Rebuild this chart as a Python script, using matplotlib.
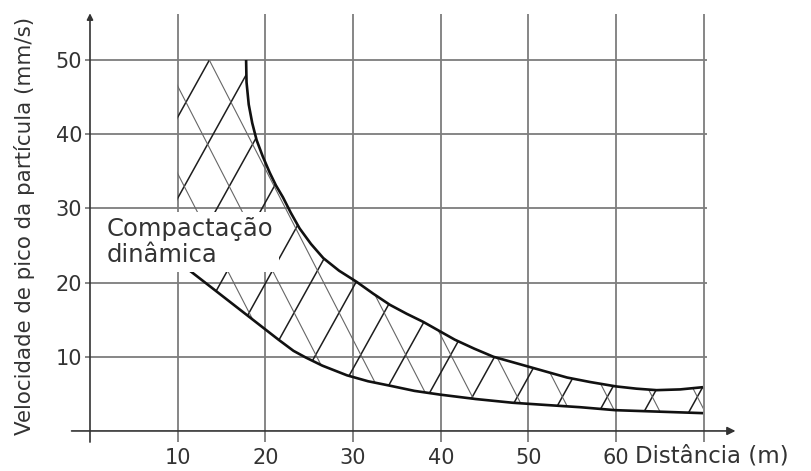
import numpy as np
import matplotlib
matplotlib.use("Agg")
from matplotlib import pyplot as plt
from matplotlib.patches import Polygon

plt.rcParams['font.family'] = ['DejaVu Sans']

# Faixa de velocidade de pico (mm/s) vs distancia (m) - compactacao dinamica
upper_x = [17.8, 17.85, 18.1, 18.5, 19.0, 19.7, 20.5, 21.2, 22.0, 22.9, 23.9,
           25.2, 26.6, 28.4, 30.4, 32.3, 34.2, 36.1, 38.0, 39.8, 41.6, 43.8,
           46.0, 48.1, 50.2, 52.3, 54.4, 57.0, 60.0, 62.3, 64.6, 67.3, 69.9]
upper_y = [50.0, 47.0, 44.0, 41.5, 39.2, 37.0, 34.8, 33.1, 31.5, 29.4, 27.3,
           25.2, 23.3, 21.6, 20.1, 18.5, 17.0, 15.8, 14.7, 13.5, 12.3, 11.1,
           10.0, 9.3, 8.6, 7.9, 7.2, 6.6, 6.0, 5.7, 5.5, 5.6, 5.9]
lower_x = [10.0, 11.6, 14.0, 16.5, 19.0, 21.5, 23.2, 24.6, 26.5, 29.3, 31.7,
           34.2, 37.0, 39.9, 44.0, 48.2, 52.0, 55.9, 59.9, 64.9, 69.9]
lower_y = [22.8, 21.4, 19.2, 16.9, 14.6, 12.3, 10.8, 9.9, 8.8, 7.5, 6.7,
           6.1, 5.4, 4.9, 4.3, 3.8, 3.5, 3.2, 2.8, 2.6, 2.4]
band_left = 10      # hatched zone starts at x = 10
band_top = 50       # and is capped at 50 mm/s

x_ticks = [10, 20, 30, 40, 50, 60, 70]
x_labels = ['10', '20', '30', '40', '50', '60', '']
y_ticks = [10, 20, 30, 40, 50]

grid_col = '#7d7d7d'
txt_col = '#333333'

fig = plt.figure(figsize=(8.11, 4.71), dpi=100)
ax = fig.add_axes([0.1048, 0.0614, 0.8064, 0.9136])
ax.set_xlim(-0.57, 74)
ax.set_ylim(-1.5, 56.5)
for s in ax.spines.values():
    s.set_visible(False)

# grid
ax.vlines(x_ticks, -1.5, 56.2, color=grid_col, lw=1.3, zorder=1)
ax.hlines(y_ticks, -0.57, 70.35, color=grid_col, lw=1.3, zorder=1)

# axes with arrows
ax.annotate('', xy=(73.6, 0), xytext=(-2.1, 0), annotation_clip=False,
            arrowprops=dict(arrowstyle='-|>', color=txt_col, lw=1.2,
                            mutation_scale=12, shrinkA=0, shrinkB=0), zorder=2)
ax.annotate('', xy=(0, 56.3), xytext=(0, -1.5), annotation_clip=False,
            arrowprops=dict(arrowstyle='-|>', color=txt_col, lw=1.2,
                            mutation_scale=9, shrinkA=0, shrinkB=0), zorder=2)

ax.set_xticks(x_ticks, x_labels)
ax.set_yticks(y_ticks)
ax.tick_params(length=0, labelsize=15, colors=txt_col)
ax.tick_params(axis='x', pad=4)
ax.tick_params(axis='y', pad=2)

# hatched zone
poly_x = [band_left] + upper_x + lower_x[::-1]
poly_y = [band_top] + upper_y + lower_y[::-1]
zone = Polygon(np.column_stack([poly_x, poly_y]), closed=True,
               facecolor='none', edgecolor='none')
ax.add_patch(zone)

step = 5.13
yy = np.array([-2, 58])
for k in range(-12, 8):
    x0 = 41.44 + step * k
    ln, = ax.plot(x0 + yy / 2.13, yy, color='#1e1e1e', lw=1.1, zorder=3)
    ln.set_clip_path(zone)
    x1 = 45.6 + step * k
    ln, = ax.plot(x1 - yy / 2.3, yy, color='#666666', lw=0.8, zorder=3)
    ln.set_clip_path(zone)

ax.plot(upper_x, upper_y, color='#111111', lw=1.9, zorder=4,
        solid_capstyle='butt', solid_joinstyle='round')
ax.plot(lower_x, lower_y, color='#111111', lw=1.9, zorder=4,
        solid_capstyle='butt', solid_joinstyle='round')

ax.text(1.95, 28.8, 'Compactação\ndinâmica', fontsize=17.5, color=txt_col,
        ha='left', va='top', linespacing=1.1, zorder=6,
        bbox=dict(facecolor='white', edgecolor='none', pad=3.5))

ax.annotate('Distância (m)', xy=(62.2, -1.5), xytext=(0, -15),
            textcoords='offset points', ha='left', va='baseline', fontsize=16.5,
            color=txt_col, annotation_clip=False)

fig.text(25 / 811, 1 - 226 / 471, 'Velocidade de pico da partícula (mm/s)',
         rotation=90, ha='center', va='center', fontsize=15.4, color=txt_col)

fig.savefig('out.png', dpi=100, facecolor='white')
